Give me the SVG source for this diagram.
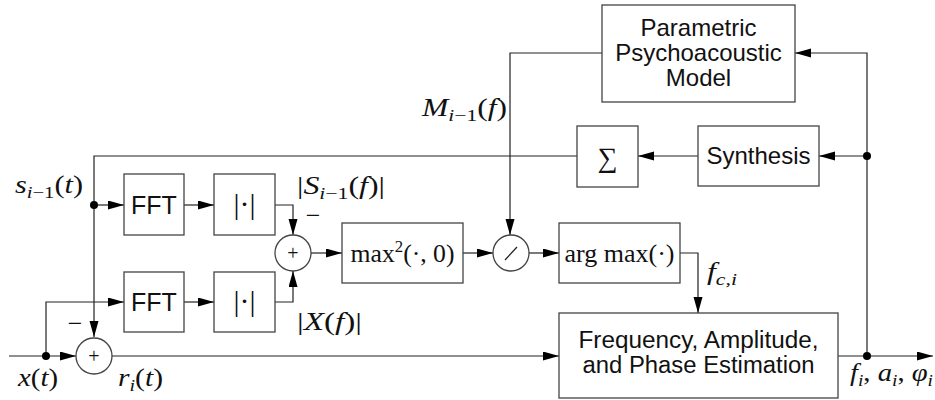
<svg xmlns="http://www.w3.org/2000/svg" width="935" height="400" viewBox="0 0 935 400">
<style>
.box{fill:#fff;stroke:#444;stroke-width:1.3}
.ln{fill:none;stroke:#222;stroke-width:1.2}
.arr{marker-end:url(#ah)}
.dot{fill:#000}
.sans{font-family:"Liberation Sans",Arial,sans-serif;font-size:24px;fill:#111;text-anchor:middle}
.m{font-family:"Liberation Serif","Times New Roman",serif;font-size:25px;fill:#111}
.mc{font-family:"Liberation Serif","Times New Roman",serif;font-size:26px;fill:#111;text-anchor:middle}
.abs{font-family:"Liberation Serif","Times New Roman",serif;font-size:30px;fill:#111;text-anchor:middle}
.i{font-style:italic}
.sub{font-size:17px}
</style>
<defs>
<marker id="ah" markerUnits="userSpaceOnUse" markerWidth="17" markerHeight="10" refX="16" refY="4.5" orient="auto">
<path d="M0,0 L16,4.5 L0,9 z" fill="#000"/>
</marker>
</defs>

<g id="connectors">
<path class="ln arr" d="M9,356 H76"/>
<path class="ln arr" d="M46,356 V302 H124"/>
<path class="ln arr" d="M112,356 H559"/>
<path class="ln arr" d="M184,205 H214"/>
<path class="ln arr" d="M184,302 H214"/>
<path class="ln arr" d="M275,205 H293 V235"/>
<path class="ln arr" d="M275,302 H293 V271"/>
<path class="ln arr" d="M311,253 H342"/>
<path class="ln arr" d="M463,253 H493"/>
<path class="ln arr" d="M529,253 H559"/>
<path class="ln arr" d="M680,253 H698 V313"/>
<path class="ln arr" d="M838,356 H933"/>
<path class="ln arr" d="M867,356 V53 H795"/>
<path class="ln arr" d="M867,156 H819"/>
<path class="ln arr" d="M698,156 H638"/>
<path class="ln arr" d="M577,156 H94 V337"/>
<path class="ln arr" d="M94,205 H124"/>
<path class="ln arr" d="M602,53 H510 V235"/>
<circle class="dot" cx="46" cy="356" r="4"/>
<circle class="dot" cx="94" cy="205" r="4"/>
<circle class="dot" cx="867" cy="156" r="4"/>
<circle class="dot" cx="867" cy="356" r="4"/>
</g>

<g id="sum1">
<circle class="box" cx="94" cy="356" r="18"/>
<text class="mc" x="94" y="363" style="font-size:20px">+</text>
</g>
<g id="sum2">
<circle class="box" cx="293" cy="253" r="18"/>
<text class="mc" x="293" y="260" style="font-size:20px">+</text>
</g>
<g id="divide">
<circle class="box" cx="511" cy="253" r="18"/>
<path class="ln" d="M505,260 L517,247"/>
</g>

<g id="fft1">
<rect class="box" x="124" y="174" width="60" height="61"/>
<text class="sans" x="154" y="214" style="font-size:25px">FFT</text>
</g>
<g id="abs1">
<rect class="box" x="214" y="174" width="61" height="61"/>
<text class="abs" x="244.5" y="214">|·|</text>
</g>
<g id="fft2">
<rect class="box" x="124" y="272" width="60" height="60"/>
<text class="sans" x="154" y="311" style="font-size:25px">FFT</text>
</g>
<g id="abs2">
<rect class="box" x="214" y="272" width="61" height="60"/>
<text class="abs" x="244.5" y="311">|·|</text>
</g>
<g id="max">
<rect class="box" x="342" y="223" width="121" height="60"/>
<text class="mc" x="402.5" y="262" textLength="104" lengthAdjust="spacingAndGlyphs">max<tspan class="sub" dy="-10">2</tspan><tspan dy="10">(·, 0)</tspan></text>
</g>
<g id="argmax">
<rect class="box" x="559" y="223" width="121" height="60"/>
<text class="mc" x="619.5" y="262" textLength="110" lengthAdjust="spacingAndGlyphs">arg max(·)</text>
</g>
<g id="sigma">
<rect class="box" x="577" y="126" width="61" height="61"/>
<text class="mc" x="607.5" y="167" style="font-size:28px">∑</text>
</g>
<g id="synthesis">
<rect class="box" x="698" y="126" width="121" height="60"/>
<text class="sans" x="758.5" y="164">Synthesis</text>
</g>
<g id="psycho">
<rect class="box" x="602" y="5" width="193" height="97"/>
<text class="sans" x="698.5" y="36">Parametric</text>
<text class="sans" x="698.5" y="61">Psychoacoustic</text>
<text class="sans" x="698.5" y="86">Model</text>
</g>
<g id="estimation">
<rect class="box" x="559" y="313" width="279" height="85"/>
<text class="sans" x="698.5" y="348" style="font-size:23px" textLength="240" lengthAdjust="spacingAndGlyphs">Frequency, Amplitude,</text>
<text class="sans" x="698.5" y="373" style="font-size:23px" textLength="232" lengthAdjust="spacingAndGlyphs">and Phase Estimation</text>
</g>

<g id="labels">
<text class="m" x="15" y="193" textLength="68" lengthAdjust="spacingAndGlyphs"><tspan class="i">s</tspan><tspan class="sub i" dy="5">i</tspan><tspan class="sub">−1</tspan><tspan dy="-5">(</tspan><tspan class="i">t</tspan>)</text>
<text class="m" x="18" y="386" textLength="40" lengthAdjust="spacingAndGlyphs"><tspan class="i">x</tspan>(<tspan class="i">t</tspan>)</text>
<text class="m" x="118" y="386" textLength="45" lengthAdjust="spacingAndGlyphs"><tspan class="i">r</tspan><tspan class="sub i" dy="5">i</tspan><tspan dy="-5">(</tspan><tspan class="i">t</tspan>)</text>
<text class="m" x="297" y="194" textLength="88" lengthAdjust="spacingAndGlyphs">|<tspan class="i">S</tspan><tspan class="sub i" dy="5">i</tspan><tspan class="sub">−1</tspan><tspan dy="-5">(</tspan><tspan class="i">f</tspan>)|</text>
<text class="m" x="297" y="330" textLength="65" lengthAdjust="spacingAndGlyphs">|<tspan class="i">X</tspan>(<tspan class="i">f</tspan>)|</text>
<text class="m" x="422" y="116" textLength="85" lengthAdjust="spacingAndGlyphs"><tspan class="i">M</tspan><tspan class="sub i" dy="5">i</tspan><tspan class="sub">−1</tspan><tspan dy="-5">(</tspan><tspan class="i">f</tspan>)</text>
<text class="m" x="707" y="280" textLength="30" lengthAdjust="spacingAndGlyphs"><tspan class="i">f</tspan><tspan class="sub i" dy="5">c,i</tspan></text>
<text class="m" x="850" y="381" textLength="83" lengthAdjust="spacingAndGlyphs"><tspan class="i">f</tspan><tspan class="sub i" dy="5">i</tspan><tspan dy="-5">, </tspan><tspan class="i">a</tspan><tspan class="sub i" dy="5">i</tspan><tspan dy="-5">, </tspan><tspan class="i">φ</tspan><tspan class="sub i" dy="5">i</tspan></text>
<text class="mc" x="313" y="224">−</text>
<text class="mc" x="75" y="332">−</text>
</g>
</svg>
